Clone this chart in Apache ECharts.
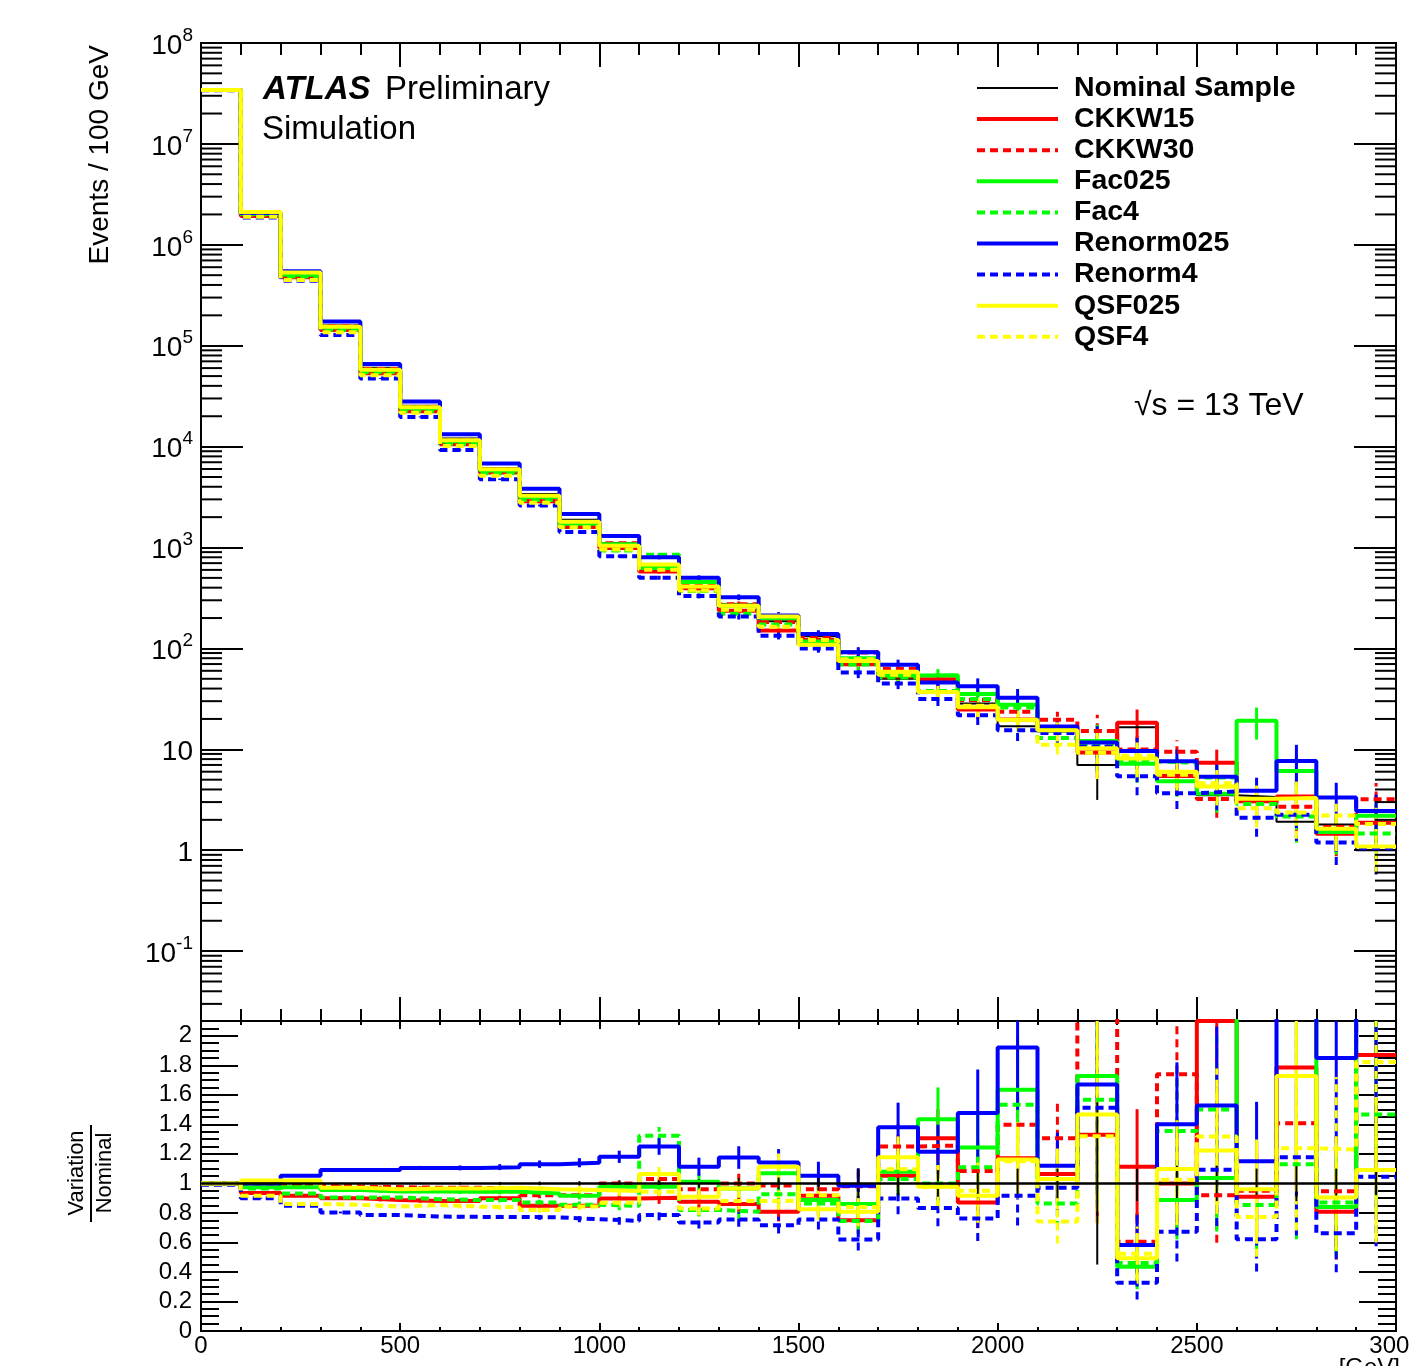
<!DOCTYPE html>
<html>
<head>
<meta charset="utf-8">
<script src="https://cdn.jsdelivr.net/npm/echarts@6/dist/echarts.min.js"></script>
<style>
html,body{margin:0;padding:0;background:#fff;}
#chart{width:1409px;height:1366px;}
</style>
</head>
<body>
<div id="chart"></div>
<script>
// ---------------- data ----------------
const binEdges = [0,100,200,300,400,500,600,700,800,900,1000,1100,1200,1300,1400,1500,1600,1700,1800,1900,2000,2100,2200,2300,2400,2500,2600,2700,2800,2900,3000];

// nominal sample, events / 100 GeV (top panel, black)
const nominal = [3.43e7,2.07e6,5.2e5,1.59e5,6.03e4,2.54e4,1.2e4,6140,3390,1880,1100,640,451,274,186,132,93,50,37.8,28.5,16.9,15.0,7.0,16.5,5.45,3.5,3.37,1.91,1.80,1.0];

// variation / nominal (bottom panel)
const ratioCKKW15   = [1.0,0.934,0.916,0.90,0.887,0.88,0.88,0.90,0.848,0.848,0.898,0.902,0.875,0.86,0.807,0.916,0.75,1.052,1.306,0.871,1.17,1.063,1.33,1.113,1.0,2.1,0.909,1.785,0.807,1.87];
const ratioCKKW30   = [1.0,0.99,0.99,0.98,0.975,0.97,0.97,0.965,0.92,0.92,1.0,1.03,0.96,1.0,0.985,0.96,0.98,1.25,1.256,1.084,1.397,1.306,2.17,0.605,1.739,0.92,0.95,1.408,0.946,3.2];
const ratioFac025   = [1.0,0.973,0.973,0.955,0.945,0.945,0.943,0.943,0.932,0.916,0.977,0.977,1.011,0.966,1.068,0.887,0.86,1.079,1.435,1.243,1.635,1.03,1.728,0.435,0.887,1.036,5.7,3.2,0.84,2.2];
const ratioFac4     = [1.0,0.966,0.932,0.905,0.905,0.893,0.887,0.887,0.87,0.855,0.848,1.322,0.82,0.807,0.927,0.864,0.746,1.03,1.0,1.109,1.533,0.864,1.567,0.46,1.354,1.5,0.853,1.13,0.87,1.467];
const ratioRenorm025= [1.0,1.0,1.052,1.09,1.09,1.105,1.105,1.11,1.13,1.14,1.18,1.25,1.113,1.175,1.141,1.052,0.984,1.381,1.215,1.476,1.921,1.12,1.669,0.583,1.40,1.528,1.15,4.0,1.85,2.45];
const ratioRenorm4  = [0.99,0.90,0.848,0.803,0.785,0.775,0.773,0.773,0.77,0.757,0.746,0.785,0.735,0.755,0.717,0.755,0.62,0.898,0.834,0.762,0.916,0.97,1.512,0.327,0.673,1.093,0.621,1.177,0.662,1.045];
const ratioQSF025   = [1.0,1.02,1.02,0.97,0.96,0.965,0.965,0.97,0.96,0.955,0.948,1.063,0.909,0.966,1.113,0.825,0.807,1.177,0.977,0.916,1.161,1.03,1.467,0.492,1.098,1.222,0.961,1.728,0.905,1.09];
const ratioQSF4     = [1.0,0.916,0.86,0.855,0.843,0.853,0.843,0.837,0.82,0.843,0.868,0.943,0.83,0.88,0.882,0.92,0.84,1.095,0.977,0.95,1.15,0.741,1.32,0.524,1.025,1.317,0.773,1.238,1.229,1.823];

// relative statistical uncertainty per bin (variations, nominal)
const relErr = [0.002,0.004,0.006,0.008,0.01,0.012,0.015,0.018,0.022,0.027,0.035,0.045,0.055,0.065,0.08,0.09,0.12,0.12,0.15,0.2,0.22,0.2,0.45,0.35,0.3,0.35,0.35,0.45,0.4,0.45];
const nominalRelErr = [0.001,0.002,0.003,0.004,0.005,0.006,0.008,0.01,0.012,0.015,0.02,0.025,0.03,0.035,0.04,0.05,0.1,0.08,0.09,0.1,0.1,0.1,0.55,0.12,0.12,0.12,0.1,0.12,0.1,0.08];

// tick labels of the ratio axis
const ratioTicks = [0,0.2,0.4,0.6,0.8,1,1.2,1.4,1.6,1.8,2];

const variations = [
  {name:'CKKW15',    color:'#ff0000', dashed:false, ratio:ratioCKKW15},
  {name:'CKKW30',    color:'#ff0000', dashed:true,  ratio:ratioCKKW30},
  {name:'Fac025',    color:'#00ff00', dashed:false, ratio:ratioFac025},
  {name:'Fac4',      color:'#00ff00', dashed:true,  ratio:ratioFac4},
  {name:'Renorm025', color:'#0000ff', dashed:false, ratio:ratioRenorm025},
  {name:'Renorm4',   color:'#0000ff', dashed:true,  ratio:ratioRenorm4},
  {name:'QSF025',    color:'#ffff00', dashed:false, ratio:ratioQSF025},
  {name:'QSF4',      color:'#ffff00', dashed:true,  ratio:ratioQSF4}
];

// ---------------- helpers ----------------
const FONT = 'Liberation Sans, Arial, Helvetica, sans-serif';
const DASH = [8,5];
const nb = nominal.length;

function steps(vals){
  return binEdges.map((e,i) => [e, vals[Math.min(i, nb-1)]]);
}
function errData(vals, errs){
  return vals.map((v,i) => {
    const c = (binEdges[i] + binEdges[i+1]) / 2;
    return [c, v, v*(1-errs[i]), v*(1+errs[i])];
  });
}
function errSeries(vals, errs, color, width, dashed, xi, yi, name){
  return {
    type:'custom', name:name, xAxisIndex:xi, yAxisIndex:yi, clip:true, silent:true,
    encode:{x:0, y:[1,2,3]},
    data: errData(vals, errs),
    renderItem: function(params, api){
      const x = api.value(0);
      const p1 = api.coord([x, api.value(2)]);
      const p2 = api.coord([x, api.value(3)]);
      return {type:'line', shape:{x1:p1[0], y1:p1[1], x2:p2[0], y2:p2[1]},
        style:{stroke:color, lineWidth:width, lineDash: dashed ? DASH : null}};
    }
  };
}
function lineSeries(name, vals, color, width, dashed, xi, yi, z){
  return {
    type:'line', name:name, xAxisIndex:xi, yAxisIndex:yi, step:'end',
    data: steps(vals), showSymbol:false, symbol:'none', clip:true, silent:true,
    animation:false, z: z || 2,
    lineStyle:{color:color, width:width, type: dashed ? DASH : 'solid'},
    itemStyle:{color:color}
  };
}

// minor ticks for the log axis (2..9 x 10^n)
const logMinor = [];
for (let n = -2; n <= 7; n++) for (let k = 2; k <= 9; k++) {
  const v = k * Math.pow(10, n);
  if (v > 0.0203 && v < 1e8) logMinor.push([0, v]);
}

// ---------------- series ----------------
const series = [];
series.push(lineSeries('Nominal Sample', nominal, '#000000', 2, false, 0, 0, 2));
series.push(errSeries(nominal, nominalRelErr, '#000000', 2, false, 0, 0, 'nomErrTop'));
variations.forEach(vr => {
  const vals = nominal.map((n,i) => n * vr.ratio[i]);
  series.push(lineSeries(vr.name, vals, vr.color, 4, vr.dashed, 0, 0, 2));
  series.push(errSeries(vals, relErr, vr.color, 3, vr.dashed, 0, 0, vr.name + ' errTop'));
});
variations.forEach(vr => {
  series.push(lineSeries(vr.name + ' ratio', vr.ratio, vr.color, 4, vr.dashed, 2, 2, 2));
  series.push(errSeries(vr.ratio, relErr, vr.color, 3, vr.dashed, 2, 2, vr.name + ' errRatio'));
});
const nominalRatio = nominal.map(v => v / v);
series.push(errSeries(nominalRatio, nominalRelErr, '#000000', 2, false, 2, 2, 'nomErrRatio'));
series.push(lineSeries('Nominal ratio', nominalRatio, '#000000', 2.5, false, 2, 2, 6));
series.push({
  type:'custom', name:'logMinorTicks', xAxisIndex:0, yAxisIndex:0, silent:true, z:8,
  encode:{x:0, y:1}, data: logMinor,
  renderItem: function(params, api){
    const y = api.coord([0, api.value(1)])[1];
    const cs = params.coordSys;
    const st = {stroke:'#000', lineWidth:2};
    return {type:'group', children:[
      {type:'line', shape:{x1:cs.x, y1:y, x2:cs.x+21, y2:y}, style:st},
      {type:'line', shape:{x1:cs.x+cs.width-21, y1:y, x2:cs.x+cs.width, y2:y}, style:st}
    ]};
  }
});

// ---------------- axes ----------------
const axisLine = {show:true, onZero:false, lineStyle:{color:'#000', width:2}};
function xAx(grid, pos, showLabel, major, minor){
  return {
    type:'value', gridIndex:grid, position:pos, min:0, max:3000, interval:500,
    axisLine:axisLine, splitLine:{show:false},
    axisTick:{show:true, inside:true, length:major, lineStyle:{color:'#000', width:2}},
    minorTick:{show:true, splitNumber:5, length:minor, lineStyle:{color:'#000', width:2}},
    axisLabel:{show:showLabel, fontFamily:FONT, fontSize:24, color:'#000', margin:3,
      formatter:function(v){ return String(v); }}
  };
}
function logY(pos, showLabel){
  return {
    type:'log', gridIndex:0, position:pos, min:0.0203, max:1e8, logBase:10,
    axisLine:axisLine, splitLine:{show:false},
    axisTick:{show:true, inside:true, length:42, lineStyle:{color:'#000', width:2}},
    minorTick:{show:false},
    axisLabel:{
      show:showLabel, showMinLabel:false, margin:8, color:'#000',
      formatter:function(v){
        const e = Math.log10(v); const n = Math.round(e);
        if (Math.abs(e-n) > 1e-6) return '';
        if (n === 0) return '{b|1}';
        if (n === 1) return '{b|10}';
        return '{b|10}{s|' + n + '}';
      },
      rich:{
        b:{fontFamily:FONT, fontSize:28, color:'#000', lineHeight:34, verticalAlign:'bottom'},
        s:{fontFamily:FONT, fontSize:19, color:'#000', lineHeight:34, verticalAlign:'top'}
      }
    }
  };
}
function ratioY(pos, showLabel){
  return {
    type:'value', gridIndex:1, position:pos, min:0, max:2.1, interval:0.2,
    axisLine:axisLine, splitLine:{show:false},
    axisTick:{show:true, inside:true, length:37, lineStyle:{color:'#000', width:2}},
    minorTick:{show:true, splitNumber:4, length:18, lineStyle:{color:'#000', width:2}},
    axisLabel:{show:showLabel, showMaxLabel:false, margin:9, fontFamily:FONT, fontSize:24, color:'#000',
      formatter:function(v){ const r = Math.round(v*10)/10; return ratioTicks.indexOf(r) >= 0 ? String(r) : ''; }}
  };
}

const legendData = [{name:'Nominal Sample', lineStyle:{color:'#000', width:2, type:'solid'}}].concat(
  variations.map(v => ({name:v.name, lineStyle:{color:v.color, width:4, type: v.dashed ? DASH : 'solid'}})));

const option = {
  backgroundColor:'#ffffff',
  animation:false,
  grid:[
    {left:201, top:43, width:1195, height:978, show:true, borderColor:'#000', borderWidth:2, backgroundColor:'transparent', outerBoundsMode:'none', containLabel:false},
    {left:201, top:1021, width:1195, height:310, show:true, borderColor:'#000', borderWidth:2, backgroundColor:'transparent', outerBoundsMode:'none', containLabel:false}
  ],
  xAxis:[ xAx(0,'bottom',false,24,12), xAx(0,'top',false,24,12), xAx(1,'bottom',true,8,4), xAx(1,'top',false,8,4) ],
  yAxis:[ logY('left', true), logY('right', false), ratioY('left', true), ratioY('right', false) ],
  legend:{
    data: legendData,
    orient:'vertical', left:970, top:68,
    itemWidth:81, itemHeight:14, itemGap:1.1, selectedMode:false,
    itemStyle:{opacity:0},
    textStyle:{fontFamily:FONT, fontSize:28.5, fontWeight:'bold', color:'#000', lineHeight:30, padding:[0,0,0,11]}
  },
  graphic:[
    {type:'text', left:263, top:73, style:{text:'ATLAS', fontFamily:FONT, fontSize:33, fontWeight:'bold', fontStyle:'italic', fill:'#000'}},
    {type:'text', left:385, top:73, style:{text:'Preliminary', fontFamily:FONT, fontSize:33, fill:'#000'}},
    {type:'text', left:262, top:113, style:{text:'Simulation', fontFamily:FONT, fontSize:33, fill:'#000'}},
    {type:'text', left:1134, top:390, style:{text:'\u221As = 13 TeV', fontFamily:FONT, fontSize:32, fill:'#000'}},
    {type:'text', x:100, y:45, rotation:Math.PI/2, style:{text:'Events / 100 GeV', fontFamily:FONT, fontSize:28, fill:'#000', align:'right', verticalAlign:'middle'}},
    {type:'text', x:77, y:1173, rotation:Math.PI/2, style:{text:'Variation', fontFamily:FONT, fontSize:22, fill:'#000', align:'center', verticalAlign:'middle'}},
    {type:'text', x:105, y:1173, rotation:Math.PI/2, style:{text:'Nominal', fontFamily:FONT, fontSize:22, fill:'#000', align:'center', verticalAlign:'middle'}},
    {type:'line', shape:{x1:91, y1:1125, x2:91, y2:1222}, style:{stroke:'#000', lineWidth:2}},
    {type:'text', x:1400, y:1356, style:{text:'[GeV]', fontFamily:FONT, fontSize:24, fill:'#000', align:'right', verticalAlign:'top'}}
  ],
  series:series
};

const chart = echarts.init(document.getElementById('chart'), null, {renderer:'canvas'});
chart.setOption(option);
</script>
</body>
</html>
